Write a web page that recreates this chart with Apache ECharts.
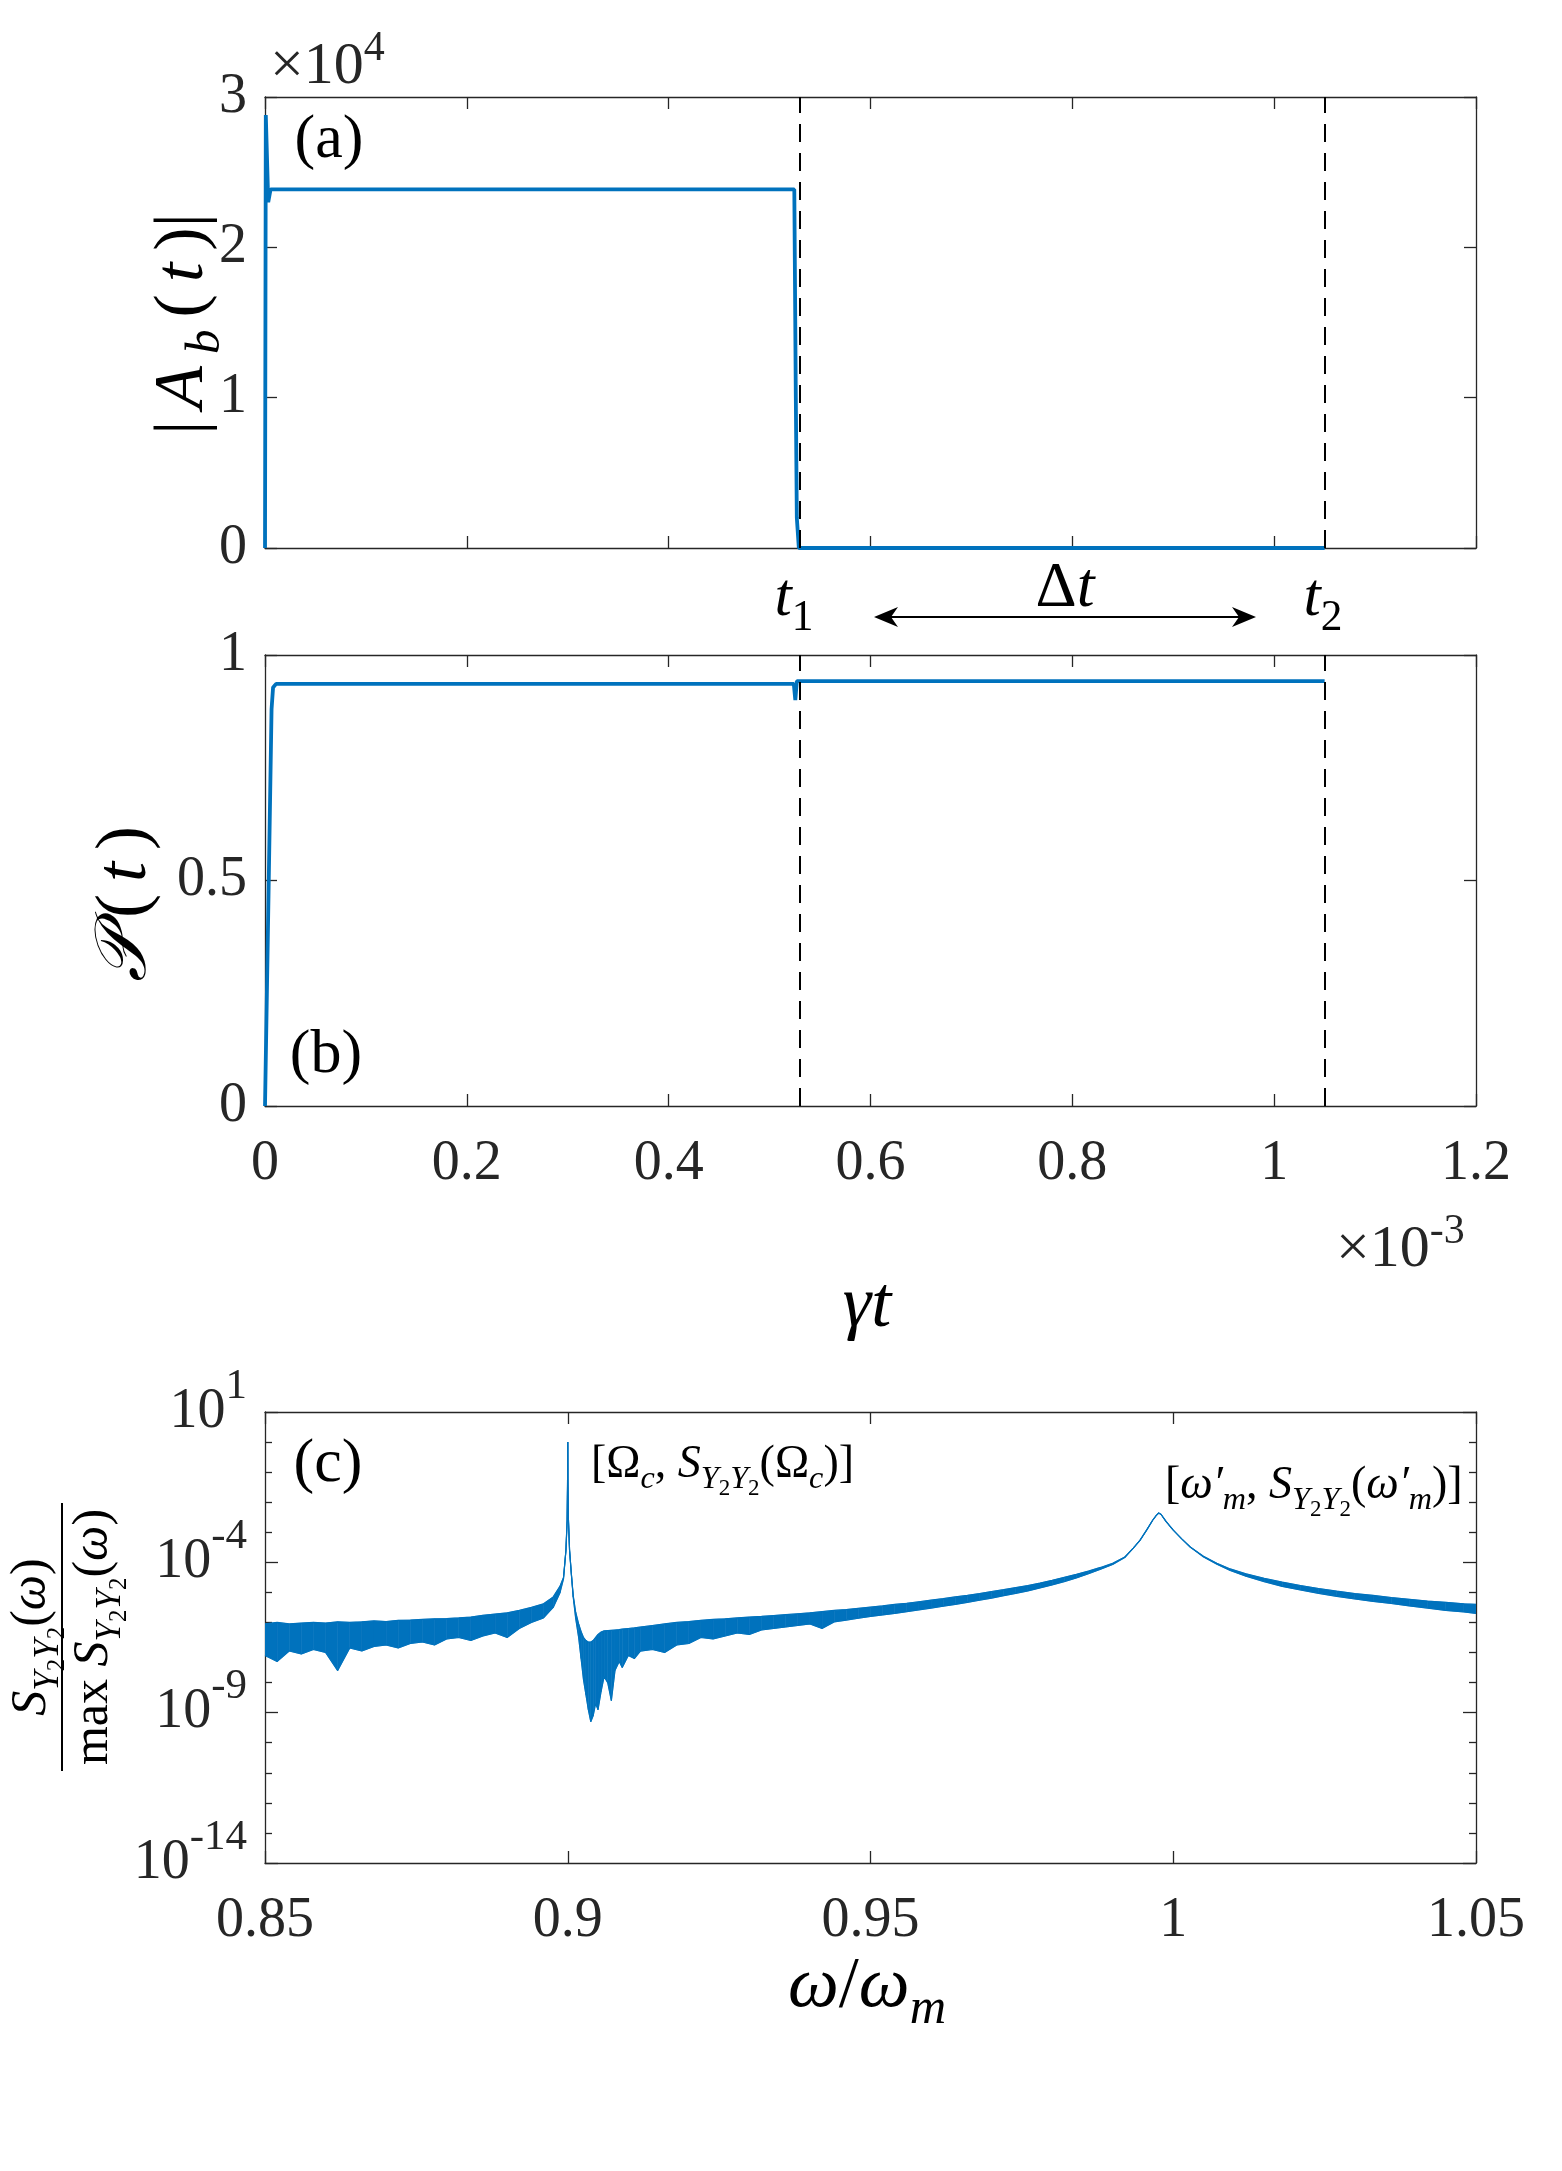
<!DOCTYPE html>
<html><head><meta charset="utf-8">
<script src="https://cdn.jsdelivr.net/npm/echarts@6/dist/echarts.min.js"></script>
<style>html,body{margin:0;padding:0;background:#fff}#c{width:1562px;height:2171px}</style>
</head><body><div id="c"></div><script>
// ---------------- data ----------------
// time in units of 1e-3 (gamma t)
const T1 = 0.525, T2 = 1.05;
const aTime = [0, 0.0008, 0.0032, 0.0055, 0.5245, 0.526, 0.527, 0.529, 1.05];
const aAmp  = [0, 2.88,   2.30,   2.385,  2.385,  1.0,   0.2,   0.0,   0.0]; // x 1e4
const bTime = [0, 0.0035, 0.0065, 0.008, 0.011, 0.524, 0.5255, 0.527, 1.05];
const bPur  = [0, 0.47,   0.88,   0.928, 0.936, 0.936, 0.900,  0.942, 0.942];
// panel (c): omega/omega_m, log10 of upper and lower edge of the noisy trace
const cOmega = [0.850,0.852,0.854,0.856,0.858,0.860,0.862,0.864,0.866,0.868,0.870,0.872,0.874,0.876,0.878,0.880,0.882,0.884,0.886,0.888,0.890,0.892,0.894,0.896,0.8976,0.8987,0.8993,0.8997,0.8999,0.89997,0.9000,0.90003,0.9001,0.9003,0.9006,0.9009,0.9013,0.9018,0.9022,0.9026,0.9030,0.9034,0.9038,0.9042,0.9046,0.9050,0.9055,0.9060,0.9066,0.9072,0.9078,0.9085,0.9090,0.9100,0.9110,0.9120,0.914,0.916,0.918,0.920,0.922,0.924,0.926,0.928,0.930,0.932,0.934,0.936,0.938,0.940,0.942,0.944,0.946,0.948,0.950,0.952,0.954,0.956,0.958,0.960,0.962,0.964,0.966,0.968,0.970,0.972,0.974,0.976,0.978,0.980,0.982,0.984,0.986,0.988,0.990,0.992,0.9934,0.9945,0.9956,0.9966,0.9972,0.9976,0.9980,0.9988,1.0000,1.0014,1.0028,1.005,1.0072,1.0094,1.012,1.015,1.018,1.021,1.024,1.027,1.030,1.033,1.036,1.039,1.042,1.045,1.048,1.050];
const cLogHigh = [-6.05,-6.00,-6.05,-6.02,-6.00,-6.02,-5.98,-6.00,-5.98,-5.95,-5.97,-5.93,-5.92,-5.90,-5.88,-5.87,-5.85,-5.82,-5.76,-5.72,-5.68,-5.60,-5.50,-5.38,-5.15,-4.80,-4.50,-3.60,-2.60,-1.30,0,-1.30,-2.50,-3.60,-4.40,-5.10,-5.65,-6.05,-6.30,-6.50,-6.60,-6.65,-6.65,-6.60,-6.50,-6.40,-6.32,-6.28,-6.27,-6.26,-6.25,-6.24,-6.22,-6.20,-6.18,-6.15,-6.10,-6.05,-6.00,-5.97,-5.93,-5.90,-5.88,-5.85,-5.82,-5.80,-5.77,-5.74,-5.71,-5.68,-5.64,-5.60,-5.57,-5.53,-5.49,-5.45,-5.40,-5.36,-5.31,-5.26,-5.21,-5.15,-5.10,-5.04,-4.97,-4.91,-4.84,-4.77,-4.69,-4.60,-4.50,-4.40,-4.29,-4.17,-4.03,-3.82,-3.53,-3.27,-2.93,-2.60,-2.44,-2.36,-2.41,-2.64,-2.93,-3.22,-3.49,-3.80,-4.03,-4.22,-4.38,-4.53,-4.66,-4.77,-4.87,-4.96,-5.04,-5.10,-5.17,-5.23,-5.29,-5.33,-5.38,-5.40];
const cLogLow  = [-7.10,-7.30,-6.95,-7.05,-6.90,-7.00,-7.60,-6.85,-6.95,-6.80,-6.75,-6.85,-6.70,-6.65,-6.75,-6.55,-6.50,-6.60,-6.45,-6.35,-6.50,-6.20,-6.00,-5.85,-5.50,-5.02,-4.55,-3.60,-2.60,-1.30,0,-1.30,-2.50,-3.60,-4.40,-5.15,-5.85,-6.50,-7.20,-7.90,-8.40,-8.90,-9.30,-9.10,-8.70,-8.90,-8.30,-7.80,-8.00,-8.60,-7.60,-7.30,-7.50,-7.10,-7.20,-6.95,-6.90,-7.00,-6.75,-6.70,-6.50,-6.55,-6.45,-6.35,-6.40,-6.25,-6.20,-6.15,-6.10,-6.05,-6.20,-5.98,-5.92,-5.86,-5.80,-5.75,-5.70,-5.64,-5.58,-5.52,-5.46,-5.40,-5.33,-5.26,-5.19,-5.11,-5.03,-4.95,-4.85,-4.75,-4.64,-4.52,-4.38,-4.23,-4.07,-3.84,-3.53,-3.27,-2.93,-2.60,-2.44,-2.36,-2.41,-2.64,-2.93,-3.22,-3.49,-3.82,-4.06,-4.27,-4.46,-4.64,-4.80,-4.92,-5.03,-5.13,-5.22,-5.30,-5.37,-5.45,-5.52,-5.60,-5.65,-5.70];

// ---------------- styling ----------------
const SERIF = '"Liberation Serif","Times New Roman","DejaVu Serif",serif';
const AX = '#262626';
const BLUE = '#0072BD';
const TICKFS = 56;

function tok(f, italic, padT, padB, hp, color, family) {
  return { fontFamily: family || SERIF, fontSize: f, lineHeight: f, fontStyle: italic ? 'italic' : 'normal',
           fill: color, color: color, verticalAlign: 'bottom',
           padding: [Math.max(0, Math.round(padT)), hp, Math.max(0, Math.round(padB)), hp] };
}
function richSet(F, color, hp) {
  const P = 0.28 * F;
  color = color || '#000';
  hp = hp || 0;
  return {
    n: tok(F, false, P, P, hp, color), i: tok(F, true, P, P, hp, color),
    cal: tok(F, true, P, P, hp, color, '"DejaVu Serif",serif'),
    sn: tok(0.7 * F, false, 0, P - 0.171 * F, hp, color), si: tok(0.7 * F, true, 0, P - 0.171 * F, hp, color),
    ssn: tok(0.5 * F, false, 0, P - 0.2685 * F, hp, color),
    pn: tok(0.7 * F, false, 0, P + 0.449 * F, hp, color)
  };
}
function txt(x, y, text, F, opts) {
  opts = opts || {};
  return { type: 'text', x: x, y: y, rotation: opts.rot || 0, silent: true, z: 100,
    style: { text: text, rich: richSet(F, opts.color, opts.hp), align: opts.align || 'center', verticalAlign: opts.va || 'middle' } };
}

function axX(gi, min, max, interval, pos, labels) {
  return { type: 'value', gridIndex: gi, min: min, max: max, interval: interval, position: pos,
    axisLine: { show: true, onZero: false, lineStyle: { color: AX, width: 1.3 } },
    axisTick: { show: true, inside: true, length: 12, lineStyle: { color: AX, width: 1.3 } },
    axisLabel: { show: labels, margin: 30, fontFamily: SERIF, fontSize: TICKFS, color: AX, showMinLabel: true, showMaxLabel: true },
    splitLine: { show: false } };
}
function axY(gi, min, max, interval, pos, labels, extra) {
  const a = { type: 'value', gridIndex: gi, min: min, max: max, interval: interval, position: pos,
    axisLine: { show: true, onZero: false, lineStyle: { color: AX, width: 1.3 } },
    axisTick: { show: true, inside: true, length: 12, lineStyle: { color: AX, width: 1.3 } },
    axisLabel: { show: labels, margin: 18, fontFamily: SERIF, fontSize: TICKFS, color: AX, showMinLabel: true, showMaxLabel: true },
    splitLine: { show: false } };
  return Object.assign(a, extra || {});
}
const logExtra = {
  minorTick: { show: true, splitNumber: 5, length: 7, lineStyle: { color: AX, width: 1.3 } },
  axisTick: { show: true, inside: true, length: 13, lineStyle: { color: AX, width: 1.3 } }
};
const logLabel = {
  formatter: function (v) { return '{b|10}{p|' + v + '}'; },
  rich: {
    b: { fontFamily: SERIF, fontSize: 56, lineHeight: 56, color: AX, verticalAlign: 'bottom' },
    p: { fontFamily: SERIF, fontSize: 43, lineHeight: 43, color: AX, verticalAlign: 'bottom', padding: [0, 0, 32, 0] }
  }
};

const dashLine = { silent: true, symbol: ['none', 'none'], label: { show: false },
  lineStyle: { color: '#000', type: [18, 11], width: 2 }, data: [{ xAxis: T1 }, { xAxis: T2 }] };

const grids = [
  { left: 265, top: 97, width: 1211, height: 451 },
  { left: 265, top: 655, width: 1211, height: 451 },
  { left: 265, top: 1412, width: 1211, height: 451 }
];

const cY0 = axY(2, -14, 1, 5, 'left', true, logExtra);
cY0.axisLabel = Object.assign({}, cY0.axisLabel, logLabel);
const cY1 = axY(2, -14, 1, 5, 'right', false, logExtra);

// filled band between lower and upper edge of the noisy spectrum
function bandItem(params, api) {
  const i = params.dataIndex;
  if (i === 0) return null;
  const p0h = api.coord([cOmega[i - 1], cLogHigh[i - 1]]);
  const p0l = api.coord([cOmega[i - 1], cLogLow[i - 1]]);
  const p1h = api.coord([api.value(0), api.value(2)]);
  const p1l = api.coord([api.value(0), api.value(1)]);
  return { type: 'polygon', shape: { points: [p0h, p1h, p1l, p0l] },
           style: { fill: BLUE, stroke: BLUE, lineWidth: 0.6 } };
}

const option = {
  animation: false,
  backgroundColor: '#fff',
  grid: grids,
  xAxis: [
    axX(0, 0, 1.2, 0.2, 'bottom', false), axX(0, 0, 1.2, 0.2, 'top', false),
    axX(1, 0, 1.2, 0.2, 'bottom', true), axX(1, 0, 1.2, 0.2, 'top', false),
    axX(2, 0.85, 1.05, 0.05, 'bottom', true), axX(2, 0.85, 1.05, 0.05, 'top', false)
  ],
  yAxis: [
    axY(0, 0, 3, 1, 'left', true), axY(0, 0, 3, 1, 'right', false),
    axY(1, 0, 1, 0.5, 'left', true), axY(1, 0, 1, 0.5, 'right', false),
    cY0, cY1
  ],
  series: [
    { type: 'line', xAxisIndex: 0, yAxisIndex: 0, showSymbol: false, symbol: 'none',
      data: aTime.map((t, i) => [t, aAmp[i]]),
      lineStyle: { color: BLUE, width: 3.8 }, itemStyle: { color: BLUE }, markLine: dashLine },
    { type: 'line', xAxisIndex: 2, yAxisIndex: 2, showSymbol: false, symbol: 'none',
      data: bTime.map((t, i) => [t, bPur[i]]),
      lineStyle: { color: BLUE, width: 3.8 }, itemStyle: { color: BLUE }, markLine: dashLine },
    { type: 'custom', xAxisIndex: 4, yAxisIndex: 4, renderItem: bandItem, clip: true,
      encode: { x: 0, y: [1, 2] },
      data: cOmega.map((w, i) => [w, cLogLow[i], cLogHigh[i]]) },
    { type: 'line', xAxisIndex: 4, yAxisIndex: 4, showSymbol: false, symbol: 'none',
      data: cOmega.map((w, i) => [w, cLogLow[i]]),
      lineStyle: { color: BLUE, width: 1.2 }, itemStyle: { color: BLUE } },
    { type: 'line', xAxisIndex: 4, yAxisIndex: 4, showSymbol: false, symbol: 'none',
      data: cOmega.map((w, i) => [w, cLogHigh[i]]),
      lineStyle: { color: BLUE, width: 1.2 }, itemStyle: { color: BLUE } }
  ],
  graphic: [
    txt(270, 84, '{n|×10}{pn|4}', 60, { align: 'left', color: AX }),
    txt(1336, 1267, '{n|×10}{pn|-3}', 60, { align: 'left', color: AX }),
    txt(329, 158, '{n|(a)}', 62),
    txt(326, 1073, '{n|(b)}', 62),
    txt(328, 1482, '{n|(c)}', 62),
    txt(794, 616, '{i|t}{sn|1}', 62),
    txt(1065, 607, '{n|Δ}{i|t}', 64),
    txt(1323, 616, '{i|t}{sn|2}', 62),
    txt(204, 324, '{n||}{i|A}{si|b}{n|(}{i|t}{n|)|}', 70, { rot: Math.PI / 2, hp: 6 }),
    txt(146, 904, '{cal|𝒫}{n|(}{i|t}{n|)}', 72, { rot: Math.PI / 2, hp: 6 }),
    txt(867, 1327, '{i|γt}', 72, { hp: 3 }),
    txt(867, 2007, '{i|ω}{n|/}{i|ω}{si|m}', 72),
    txt(591, 1478, '{n|[Ω}{si|c}{n|, }{i|S}{si|Y}{ssn|2}{si|Y}{ssn|2}{n|(Ω}{si|c}{n|)]}', 46, { align: 'left' }),
    txt(1165, 1499, '{n|[}{i|ω′}{si|m}{n|, }{i|S}{si|Y}{ssn|2}{si|Y}{ssn|2}{n|(}{i|ω′}{si|m}{n|)]}', 46, { align: 'left' }),
    { type: 'group', x: 62, y: 1637, rotation: Math.PI / 2, silent: true, children: [
      txt(0, -16, '{i|S}{si|Y}{ssn|2}{si|Y}{ssn|2}{n|(}{i|ω}{n|)}', 50),
      { type: 'line', shape: { x1: -134, y1: 0, x2: 134, y2: 0 }, style: { stroke: '#000', lineWidth: 2 } },
      txt(0, 46, '{n|max }{i|S}{si|Y}{ssn|2}{si|Y}{ssn|2}{n|(}{i|ω}{n|)}', 50)
    ] },
    { type: 'line', silent: true, shape: { x1: 885, y1: 617, x2: 1245, y2: 617 }, style: { stroke: '#000', lineWidth: 2 } },
    { type: 'polygon', silent: true, shape: { points: [[874, 617], [898, 607], [891, 617], [898, 627]] }, style: { fill: '#000' } },
    { type: 'polygon', silent: true, shape: { points: [[1256, 617], [1232, 607], [1239, 617], [1232, 627]] }, style: { fill: '#000' } }
  ]
};

const chart = echarts.init(document.getElementById('c'), null, { renderer: 'canvas', width: 1562, height: 2171 });
chart.setOption(option);
</script></body></html>
